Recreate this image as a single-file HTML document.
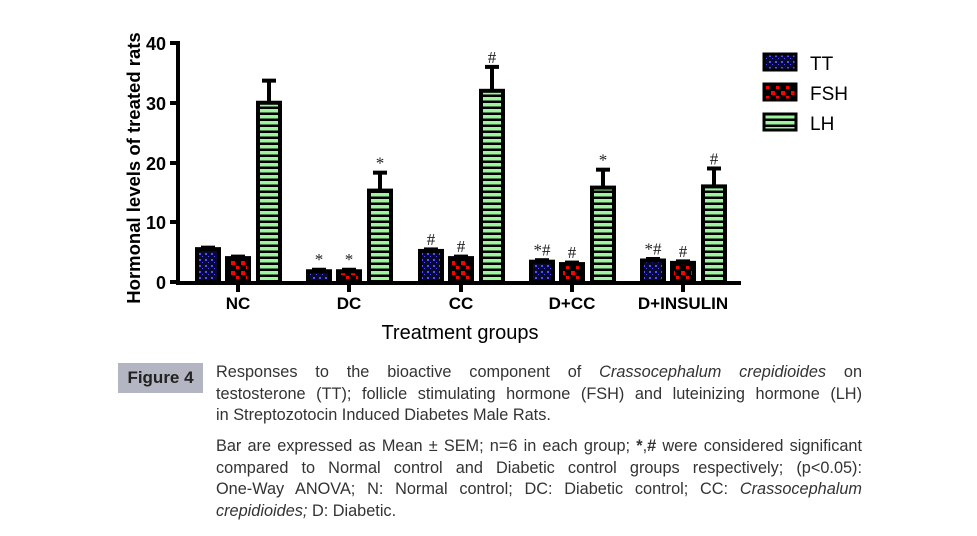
<!DOCTYPE html>
<html><head><meta charset="utf-8"><style>
body{margin:0;background:#fff;width:977px;height:536px;overflow:hidden;position:relative;font-family:"Liberation Sans",sans-serif}
.cap{position:absolute;left:216px;width:646px;font-size:16.3px;color:#333;line-height:21.7px}
.cap div{white-space:nowrap;text-align:justify;text-align-last:justify}
.cap div.l{text-align-last:left}
.fig{position:absolute;left:118px;top:363px;width:85px;height:30px;background:#b3b6c2;font-weight:bold;font-size:17px;color:#222;line-height:30px;text-align:center}
</style></head><body>
<svg width="977" height="360" style="position:absolute;left:0;top:0">
<defs>
<pattern id="tt" width="6" height="6" patternUnits="userSpaceOnUse"><rect width="6" height="6" fill="#0a0a30"/><rect x="1" y="1" width="2" height="2" fill="#5050ff"/><rect x="4" y="4" width="1" height="1" fill="#5050ff"/></pattern>
<pattern id="fsh" width="10" height="10" patternUnits="userSpaceOnUse"><rect width="10" height="10" fill="#000"/><rect x="1" y="1" width="4" height="4" fill="#f00"/><rect x="6" y="6" width="3" height="3" fill="#f00"/></pattern>
<pattern id="lh" width="6" height="6" patternUnits="userSpaceOnUse"><rect width="6" height="6" fill="#000"/><rect y="1" width="6" height="3.5" fill="#9ef59e"/></pattern>
</defs>
<g stroke="#000" stroke-width="4" fill="none">
<line x1="178" y1="41" x2="178" y2="284"/>
<line x1="176" y1="283" x2="741" y2="283"/>
<line x1="170" y1="43" x2="178" y2="43"/><line x1="170" y1="103" x2="178" y2="103"/><line x1="170" y1="163" x2="178" y2="163"/><line x1="170" y1="222" x2="178" y2="222"/><line x1="170" y1="282" x2="178" y2="282"/>
<line x1="238" y1="283" x2="238" y2="292"/><line x1="349" y1="283" x2="349" y2="292"/><line x1="461" y1="283" x2="461" y2="292"/><line x1="572" y1="283" x2="572" y2="292"/><line x1="683" y1="283" x2="683" y2="292"/>
</g>
<g font-weight="bold" font-size="18" text-anchor="end">
<text x="166" y="50">40</text><text x="166" y="110">30</text><text x="166" y="170">20</text><text x="166" y="229">10</text><text x="166" y="289">0</text>
</g>
<g font-weight="bold" font-size="17" text-anchor="middle">
<text x="238" y="309">NC</text><text x="349" y="309">DC</text><text x="461" y="309">CC</text><text x="572" y="309">D+CC</text><text x="683" y="309">D+INSULIN</text>
</g>
<text x="460" y="339" font-size="20" text-anchor="middle">Treatment groups</text>
<text transform="translate(140,168) rotate(-90)" font-weight="bold" font-size="18.5" text-anchor="middle">Hormonal levels of treated rats</text>
<g id="bars" stroke="#000" stroke-width="4"></g>
<g font-family="Liberation Serif,serif" font-size="17" fill="#222" text-anchor="middle" id="marks"></g>
<rect x="764" y="54" width="32" height="16" fill="url(#tt)" stroke="#000" stroke-width="3"/>
<rect x="764" y="84" width="32" height="16" fill="url(#fsh)" stroke="#000" stroke-width="3"/>
<rect x="764" y="114" width="32" height="16" fill="url(#lh)" stroke="#000" stroke-width="3"/>
<g font-size="19"><text x="810" y="70">TT</text><text x="810" y="100">FSH</text><text x="810" y="130">LH</text></g>
</svg>
<script>
var g=document.getElementById('bars'),m=document.getElementById('marks'),ns='http://www.w3.org/2000/svg';
var d=[[238,[5.5,4,30],[0,0,33.7],['','','']],[349,[1.8,1.8,15.3],[0,0,18.3],['*','*','*']],[461,[5.2,4,32],[0,0,36],['#','#','#']],[572,[3.4,3,15.8],[0,0,18.8],['*#','#','*']],[683,[3.6,3.2,16],[0,0,19],['*#','#','#']]];
var fills=['url(#tt)','url(#fsh)','url(#lh)'],off=[-30,0,31];
function Y(v){return 282-v*5.975}
function el(t,a,p){var e=document.createElementNS(ns,t);for(var k in a)e.setAttribute(k,a[k]);p.appendChild(e);return e}
d.forEach(function(r){for(var i=0;i<3;i++){var cx=r[0]+off[i],v=r[1][i],y=Y(v),top=y;
if(r[2][i]){var ye=Y(r[2][i]);el('line',{x1:cx,x2:cx,y1:y,y2:ye},g);el('line',{x1:cx-7,x2:cx+7,y1:ye,y2:ye},g);top=ye}
else{el('line',{x1:cx-7,x2:cx+7,y1:y-1.5,y2:y-1.5},g);top=y-2}
el('rect',{x:cx-11,y:y,width:22,height:282-y,fill:fills[i]},g);
if(r[3][i]){var t=el('text',{x:cx,y:top-4},m);t.textContent=r[3][i];}}});
</script>
<div class="fig">Figure 4</div>
<div class="cap" style="top:362px">
<div>Responses to the bioactive component of <i>Crassocephalum crepidioides</i> on</div>
<div>testosterone (TT); follicle stimulating hormone (FSH) and luteinizing hormone (LH)</div>
<div class="l">in Streptozotocin Induced Diabetes Male Rats.</div>
</div>
<div class="cap" style="top:436px">
<div>Bar are expressed as Mean ± SEM; n=6 in each group; <b>*</b>,<b>#</b> were considered significant</div>
<div>compared to Normal control and Diabetic control groups respectively; (p&lt;0.05):</div>
<div>One-Way ANOVA; N: Normal control; DC: Diabetic control; CC: <i>Crassocephalum</i></div>
<div class="l"><i>crepidioides;</i> D: Diabetic.</div>
</div>
</body></html>
